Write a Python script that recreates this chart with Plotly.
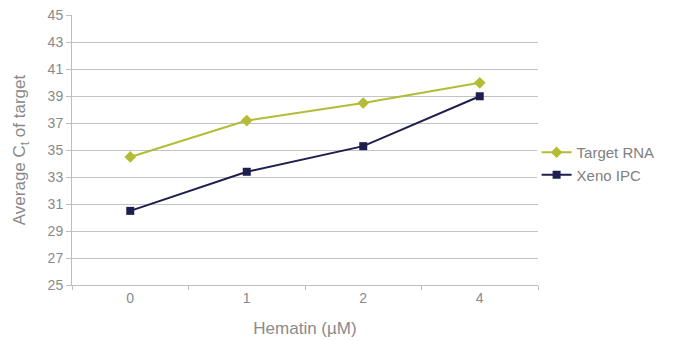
import plotly.graph_objects as go

categories = ["0", "1", "2", "4"]
target_rna = [34.5, 37.2, 38.5, 40.0]
xeno_ipc = [30.5, 33.4, 35.3, 39.0]
y_ticks = [25, 27, 29, 31, 33, 35, 37, 39, 41, 43, 45]

fig = go.Figure()
fig.add_trace(go.Scatter(x=categories, y=target_rna, name="Target RNA", mode="lines+markers",
                         line=dict(color="#b3bc34", width=2),
                         marker=dict(symbol="diamond", size=9, color="#b3bc34")))
fig.add_trace(go.Scatter(x=categories, y=xeno_ipc, name="Xeno IPC", mode="lines+markers",
                         line=dict(color="#1e1f4e", width=2),
                         marker=dict(symbol="square", size=8, color="#1e1f4e")))

font_family = "Liberation Sans, Arial, sans-serif"
fig.update_layout(
    width=673, height=341,
    margin=dict(l=72, r=135, t=15, b=56, autoexpand=False),
    plot_bgcolor="white", paper_bgcolor="white",
    font=dict(family=font_family, color="#8a8a8a", size=14),
    legend=dict(x=0.997, y=0.45, xanchor="left", yanchor="middle",
                font=dict(size=15, color="#808080"), tracegroupgap=0, itemwidth=30),
    xaxis=dict(type="category", range=[-0.5, 3.5], tickson="boundaries", ticks="outside", ticklen=4,
               tickcolor="#bdbdbd", showline=True, linecolor="#bdbdbd", linewidth=1,
               showgrid=False, automargin=False, tickfont=dict(size=14, color="#8a8a8a"),
               title=dict(text="Hematin (µM)", font=dict(size=17, color="#8a8a8a"), standoff=17)),
    yaxis=dict(range=[25, 45.03], tickvals=y_ticks, ticks="outside", ticklen=5,
               tickcolor="#bdbdbd", showline=True, linecolor="#bdbdbd", linewidth=1,
               showgrid=True, gridcolor="#c4c4c4", gridwidth=1, zeroline=False, automargin=False,
               ticklabeloverflow="allow",
               tickfont=dict(size=14, color="#8a8a8a"),
               title=dict(text="Average C<sub>t</sub> of target", font=dict(size=17, color="#8a8a8a"), standoff=17)),
)
fig.write_html("out.html", config={"displayModeBar": False},
               post_script="document.body.style.margin='0';document.body.style.padding='0';")
